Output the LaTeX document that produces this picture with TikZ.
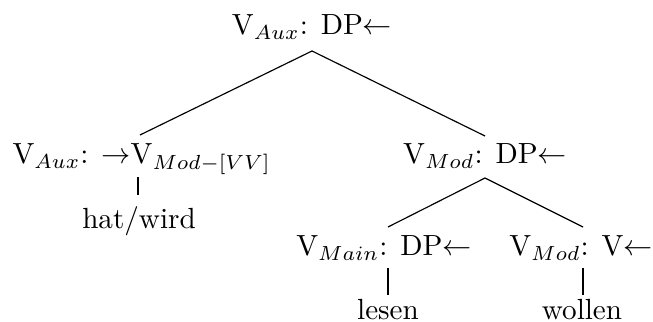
\documentclass[tikz,border=0pt]{standalone}
\begin{document}
\begin{tikzpicture}[x=0.343pt,y=-0.343pt,
  lbl/.style={anchor=base,inner sep=0pt,font=\fontsize{10}{12}\selectfont},
  edge/.style={line width=0.4pt}]
\useasboundingbox (0,0) rectangle (653,322);
% labels
\node[lbl] (root) at (312,35) {V$_{Aux}$: DP$\leftarrow$};
\node[lbl,anchor=base west] (lc) at (12,164) {V$_{Aux}$: $\rightarrow$V$_{Mod-[VV]}$};
\node[lbl] (hw) at (139,229) {hat/wird};
\node[lbl] (rc) at (485,164) {V$_{Mod}$: DP$\leftarrow$};
\node[lbl] (vm) at (384,256) {V$_{Main}$: DP$\leftarrow$};
\node[lbl] (vmod) at (581,256) {V$_{Mod}$: V$\leftarrow$};
\node[lbl] (les) at (388,320) {lesen};
\node[lbl] (wol) at (582,320) {wollen};
% edge end points
\coordinate (root-b) at (312,51);
\coordinate (lc-t) at (140,135);
\coordinate (lc-b) at (138,177);
\coordinate (hw-t) at (138,195);
\coordinate (rc-t) at (485,136);
\coordinate (rc-b) at (485,178);
\coordinate (vm-t) at (388,227);
\coordinate (vm-b) at (388,268);
\coordinate (les-t) at (388,295);
\coordinate (vmod-t) at (583,227);
\coordinate (vmod-b) at (583,268);
\coordinate (wol-t) at (583,295);
% edges
\draw[edge] (root-b) -- (lc-t);
\draw[edge] (root-b) -- (rc-t);
\draw[edge] (lc-b) -- (hw-t);
\draw[edge] (rc-b) -- (vm-t);
\draw[edge] (rc-b) -- (vmod-t);
\draw[edge] (vm-b) -- (les-t);
\draw[edge] (vmod-b) -- (wol-t);
\end{tikzpicture}
\end{document}
